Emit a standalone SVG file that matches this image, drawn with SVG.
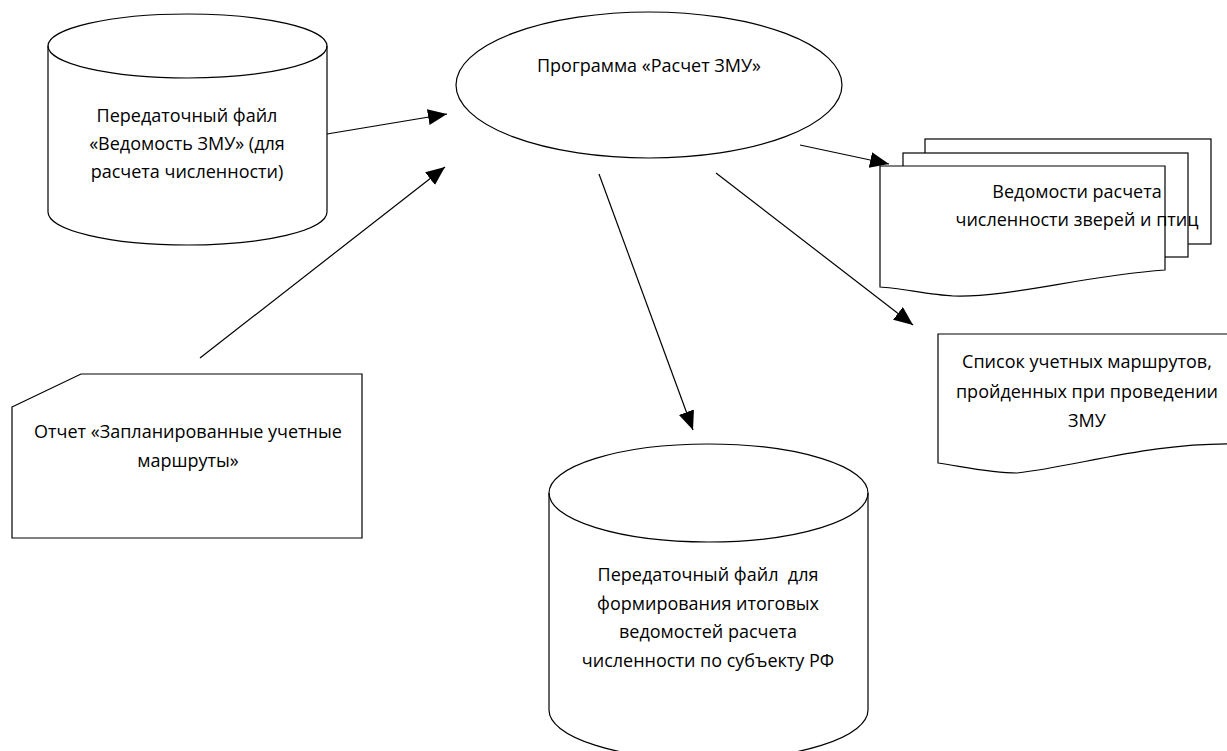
<svg xmlns="http://www.w3.org/2000/svg" width="1227" height="751" viewBox="0 0 1227 751">
<style>
  .shape { fill: #ffffff; stroke: #000000; stroke-width: 1.2; }
  .line { fill: none; stroke: #000000; stroke-width: 1.2; }
  text { font-family: "Open Sans", "Liberation Sans", sans-serif; font-size: 18px; fill: #000000; text-anchor: middle; white-space: pre; }
</style>
<defs>
  <marker id="arrowBig" markerWidth="20" markerHeight="20" refX="19" refY="8" orient="auto" markerUnits="userSpaceOnUse">
    <path d="M0,0 L19,8 L0,16 Z" fill="#000000"/>
  </marker>
</defs>
<rect width="1227" height="751" fill="#ffffff"/>

<g id="connectors">
  <line x1="327" y1="134" x2="447" y2="114" class="line" marker-end="url(#arrowBig)"/>
  <line x1="200" y1="358" x2="445" y2="167" class="line" marker-end="url(#arrowBig)"/>
  <line x1="599" y1="174" x2="693" y2="430" class="line" marker-end="url(#arrowBig)"/>
  <line x1="716" y1="173" x2="913" y2="325" class="line" marker-end="url(#arrowBig)"/>
  <line x1="800" y1="145" x2="889" y2="164" class="line" marker-end="url(#arrowBig)"/>
</g>

<g id="node-file-vedomost">
  <path class="shape" d="M48,46 L48,212 A139.5,33 0 0 0 327,212 L327,46 A139.5,32 0 0 0 48,46 Z"/>
  <path class="line" d="M48,46 A139.5,32 0 0 0 327,46"/>
  <text x="187" y="122">Передаточный файл</text>
  <text x="187" y="150">«Ведомость ЗМУ» (для</text>
  <text x="187" y="178">расчета численности)</text>
</g>

<g id="node-program">
  <ellipse class="shape" cx="649" cy="85" rx="193" ry="73"/>
  <text x="649" y="72">Программа «Расчет ЗМУ»</text>
</g>

<g id="node-vedomosti-rascheta">
  <rect class="shape" x="925" y="139" width="286" height="105"/>
  <rect class="shape" x="903" y="153" width="285" height="104"/>
  <path class="shape" d="M880,166 L1165,166 L1165,270 C1080,276 1010,298 953,296 C930,295 900,288 880,287 Z"/>
  <text x="1077" y="198">Ведомости расчета</text>
  <text x="1077" y="226">численности зверей и птиц</text>
</g>

<g id="node-spisok">
  <path class="shape" d="M938,334 L1240,334 L1240,444 C1150,442 1080,466 1017,473 C990,473 960,466 938,463 Z"/>
  <text x="1087" y="368">Список учетных маршрутов,</text>
  <text x="1087" y="398">пройденных при проведении</text>
  <text x="1087" y="427">ЗМУ</text>
</g>

<g id="node-otchet">
  <path class="shape" d="M12,407 L81,374 L362,374 L362,538 L12,538 Z"/>
  <text x="188" y="438">Отчет «Запланированные учетные</text>
  <text x="188" y="467">маршруты»</text>
</g>

<g id="node-file-itog">
  <path class="shape" d="M549,493 L549,710 A159.5,50 0 0 0 868,710 L868,493 A159.5,49 0 0 0 549,493 Z"/>
  <path class="line" d="M549,493 A159.5,49 0 0 0 868,493"/>
  <text x="708" y="581" xml:space="preserve">Передаточный файл  для</text>
  <text x="708" y="610">формирования итоговых</text>
  <text x="708" y="638">ведомостей расчета</text>
  <text x="708" y="667">численности по субъекту РФ</text>
</g>
</svg>
